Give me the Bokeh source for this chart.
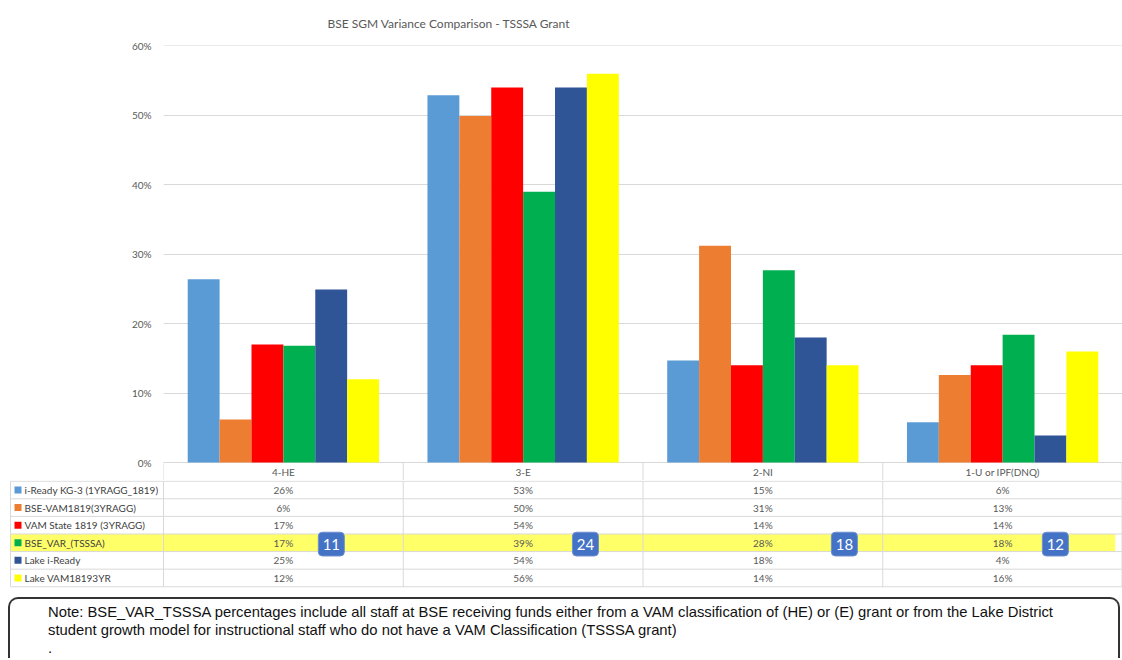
from bokeh.plotting import figure
from bokeh.layouts import column
from bokeh.models import Range1d, FixedTicker, PrintfTickFormatter, Div
from bokeh.core.properties import value
from bokeh.embed import file_html
from bokeh.resources import INLINE

# ---------------- data ----------------
chart_title = "BSE SGM Variance Comparison - TSSSA Grant"
categories = ["4-HE", "3-E", "2-NI", "1-U or IPF(DNQ)"]
series_names = [
    "i-Ready KG-3 (1YRAGG_1819)",
    "BSE-VAM1819(3YRAGG)",
    "VAM State 1819 (3YRAGG)",
    "BSE_VAR_(TSSSA)",
    "Lake i-Ready",
    "Lake VAM18193YR",
]
iready_kg3 = [26.4, 52.9, 14.7, 5.8]
bse_vam1819 = [6.2, 49.9, 31.2, 12.6]
vam_state1819 = [17.0, 54.0, 14.0, 14.0]
bse_var_tsssa = [16.8, 39.0, 27.7, 18.4]
lake_iready = [24.9, 54.0, 18.0, 3.9]
lake_vam = [12.0, 56.0, 14.0, 16.0]
series_values = [iready_kg3, bse_vam1819, vam_state1819, bse_var_tsssa, lake_iready, lake_vam]
highlight_series = "BSE_VAR_(TSSSA)"
staff_counts = [11, 24, 18, 12]
y_ticks = [0, 10, 20, 30, 40, 50, 60]
note_lines = [
    "Note: BSE_VAR_TSSSA percentages include all staff at BSE receiving funds either from a VAM classification of (HE) or (E) grant or from the Lake District",
    "student growth model for instructional staff who do not have a VAM Classification (TSSSA grant)",
    ".",
]

# ---------------- styles ----------------
colors = ["#5b9bd5", "#ed7d31", "#ff0000", "#00b050", "#2f5597", "#ffff00"]
FONT = value("Lato")
GRID = "#d9d9d9"
TXT = "#595959"
W = 1122
n_cat = len(categories)
bar_w = 0.133
FRAME_LEFT = 163
px_per_unit = (W - FRAME_LEFT) / n_cat
y_px = 417 / 60.0
y_bottom = -18 / y_px

# ---------------- chart ----------------
p = figure(width=W, height=480, x_range=Range1d(0, n_cat), y_range=Range1d(y_bottom, 60.05),
           output_backend="svg", toolbar_location=None, x_axis_location=None,
           min_border_left=FRAME_LEFT, min_border_right=0, min_border_top=45, min_border_bottom=0,
           title=chart_title)
p.frame_align = False
p.outline_line_color = None
p.title.text_font = "Lato"
p.title.text_font_size = "12px"
p.title.text_font_style = "normal"
p.title.text_color = TXT
p.title.align = "left"
p.title.vertical_align = "top"
p.title.offset = 164
p.title.standoff = 25

p.yaxis.ticker = FixedTicker(ticks=y_ticks)
p.yaxis.formatter = PrintfTickFormatter(format="%d%%")
p.yaxis.axis_line_color = None
p.yaxis.major_tick_line_color = None
p.yaxis.minor_tick_line_color = None
p.yaxis.major_label_text_font = "Lato"
p.yaxis.major_label_text_font_size = "10px"
p.yaxis.major_label_text_color = TXT
p.yaxis.major_label_standoff = 6
p.ygrid.grid_line_color = GRID
p.xgrid.grid_line_color = None

for k, (vals, col) in enumerate(zip(series_values, colors)):
    xs = [i + 0.5 + (k - (len(series_values) - 1) / 2) * bar_w for i in range(n_cat)]
    p.vbar(x=xs, top=vals, bottom=0, width=bar_w, fill_color=col, line_color=None)

# header row of the data table (category labels)
p.text(x=[i + 0.5 for i in range(n_cat)], y=[y_bottom / 2] * n_cat, text=categories,
       text_align="center", text_baseline="middle", text_font=FONT,
       text_font_size=value("10px"), text_color=TXT)
hx = list(range(n_cat)) + [n_cat - 0.002]
p.segment(x0=hx, y0=y_bottom, x1=hx, y1=0, line_color=GRID, line_width=1)

# ---------------- data table ----------------
row_px = 17.7
th = 117
nrows = len(series_names)
x0 = -FRAME_LEFT / px_per_unit
left_x = (10 - FRAME_LEFT) / px_per_unit
key_x = (17.5 - FRAME_LEFT) / px_per_unit
lab_x = (24 - FRAME_LEFT) / px_per_unit
t = figure(width=W, height=th, x_range=Range1d(x0, n_cat), y_range=Range1d(th / row_px, -0.04),
           output_backend="svg", toolbar_location=None, x_axis_location=None, y_axis_location=None,
           min_border_left=0, min_border_right=0, min_border_top=0, min_border_bottom=0)
t.frame_align = False
t.outline_line_color = None
t.xgrid.grid_line_color = None
t.ygrid.grid_line_color = None

hi = series_names.index(highlight_series)
t.quad(left=[left_x], right=[n_cat - 0.03], top=[hi], bottom=[hi + 1],
       fill_color="#ffff4d", fill_alpha=0.85, line_color=None)

t.segment(x0=[left_x] * (nrows + 1), y0=list(range(nrows + 1)), x1=[n_cat] * (nrows + 1),
          y1=list(range(nrows + 1)), line_color=GRID, line_width=1)
vx = [left_x] + list(range(n_cat)) + [n_cat - 0.002]
t.segment(x0=vx, y0=[0] * len(vx), x1=vx, y1=[nrows] * len(vx), line_color=GRID, line_width=1)

t.scatter(x=[key_x] * nrows, y=[k + 0.5 for k in range(nrows)], marker="square", size=7,
          fill_color=colors, line_color=None)
t.text(x=[lab_x] * nrows, y=[k + 0.5 for k in range(nrows)], text=series_names,
       text_align="left", text_baseline="middle", text_font=FONT,
       text_font_size=value("10px"), text_color="#404040")

cx, cy, ct = [], [], []
for k, vals in enumerate(series_values):
    for i, v in enumerate(vals):
        cx.append(i + 0.5)
        cy.append(k + 0.5)
        ct.append(f"{round(v)}%")
t.text(x=cx, y=cy, text=ct, text_align="center", text_baseline="middle", text_font=FONT,
       text_font_size=value("10px"), text_color=TXT)

badge_pos = [0.7, 0.76, 0.84, 0.72]
bxs = [i + badge_pos[i] for i in range(n_cat)]
bh = 13 / px_per_unit
t.quad(left=[x - bh for x in bxs], right=[x + bh for x in bxs], top=[hi - 0.1] * n_cat,
       bottom=[hi + 1.25] * n_cat, fill_color="#4472c4", line_color="#6f8fd0", border_radius=4)
t.text(x=bxs, y=[hi + 0.58] * n_cat, text=[str(c) for c in staff_counts], text_align="center",
       text_baseline="middle", text_font=FONT, text_font_size=value("15px"), text_color="white")

# ---------------- note ----------------
note_html = ('<div style="box-sizing:border-box;margin-left:8px;width:1112px;height:61px;border:2px solid #333;'
             'border-bottom:none;border-radius:10px 10px 0 0;padding:4px 0 0 38px;white-space:nowrap;'
             "font-family:'Liberation Sans',Arial,sans-serif;font-size:14.8px;line-height:18px;color:#111;\">"
             + "<br>".join(note_lines) + "</div>")
note = Div(text=note_html, width=W, height=61, margin=0)

layout = column(p, t, note)
open("out.html", "w").write(file_html(layout, INLINE))
